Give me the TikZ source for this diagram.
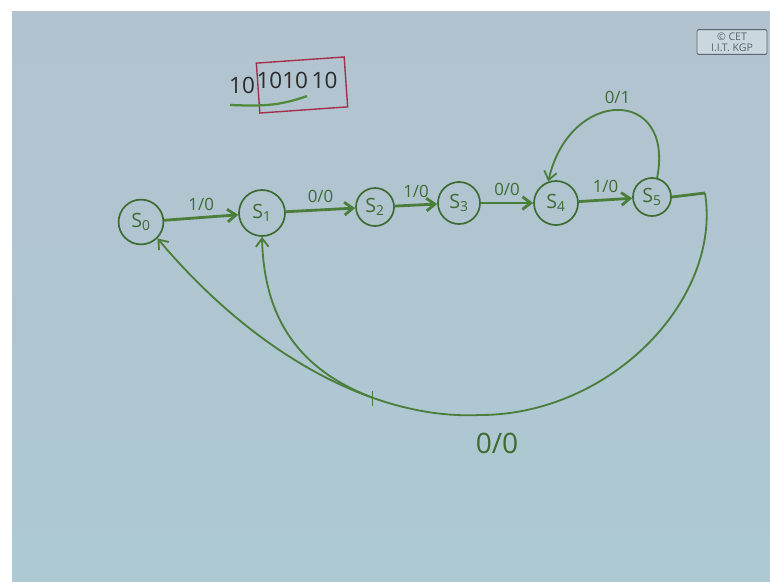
\documentclass[tikz,border=0pt]{standalone}
\usepackage{fontspec}
\setmainfont{Open Sans}
\usepackage{tikz}
\usetikzlibrary{arrows.meta, calc}
\definecolor{boardTop}{HTML}{B2C3CF}
\definecolor{boardMid}{HTML}{CAD7DE}
\definecolor{boardBot}{HTML}{ADC9D3}
\definecolor{pen}{HTML}{4B7D3B}
\definecolor{penB}{HTML}{3D6B31}
\definecolor{ink}{HTML}{2B2B2B}
\definecolor{boxRed}{HTML}{A3304C}
\definecolor{ulGreen}{HTML}{4F8C3A}
\definecolor{stamp}{HTML}{5C6470}

\begin{document}
\begin{tikzpicture}[x=0.025cm, y=-0.025cm, >={Straight Barb[length=6pt,width=9pt]},
st/.style={draw=penB, circle, line width=1.2pt, inner sep=0pt, font=\fontsize{14}{16}\selectfont, text=penB},
tr/.style={->, draw=pen, line width=2pt},
lp/.style={->, draw=pen, line width=1.3pt},
el/.style={font=\fontsize{12}{14}\selectfont, text=penB, inner sep=1pt},
seq/.style={font=\fontsize{16}{19}\selectfont, text=ink, inner sep=1pt}]
\useasboundingbox (0,0) rectangle (770,581);
\fill[white] (0,0) rectangle (770,581);
\shade[top color=boardTop, middle color=boardMid, bottom color=boardBot] (12,11) rectangle (770,581);
% stamp
\node[draw=stamp, fill=boardMid, rounded corners=1pt, line width=0.6pt, align=center, font=\fontsize{7.5}{8}\selectfont, text=stamp, inner sep=1.5pt, minimum width=1.75cm, minimum height=0.62cm] (cet) at (732,42) {\copyright\ CET\\I.I.T. KGP};
% input sequence
\node[seq] (pre) at (242,85) {10};
\node[seq] (seq) at (297,80) {1010\,10};
\node[draw=boxRed, line width=1pt, rotate=4, minimum width=2.2cm, minimum height=1.25cm] (win) at (302,85) {};
\coordinate (ulA) at (230,105); \coordinate (ulB) at (307,96);
\draw[ulGreen, line width=1.6pt] (ulA) to[out=-2, in=200] (ulB);
% states
\node[st, minimum size=1.12cm] (s0) at (141,222) {S\textsubscript{0}};
\node[st, minimum size=1.15cm] (s1) at (262,213) {S\textsubscript{1}};
\node[st, minimum size=0.95cm] (s2) at (375,207) {S\textsubscript{2}};
\node[st, minimum size=1.05cm] (s3) at (459,203) {S\textsubscript{3}};
\node[st, minimum size=1.1cm] (s4) at (556,203) {S\textsubscript{4}};
\node[st, minimum size=0.95cm] (s5) at (652,197) {S\textsubscript{5}};
% transitions
\draw[tr] (s0) -- (s1) node[el, midway, above=3pt] {1/0};
\draw[tr] (s1) -- (s2) node[el, midway, above=3pt] {0/0};
\draw[tr] (s2) -- (s3) node[el, midway, above=3pt] {1/0};
\draw[tr] (s3) -- (s4) node[el, midway, above=3pt] {0/0};
\draw[tr] (s4) -- (s5) node[el, midway, above=3pt] {1/0};
\draw[lp] (s5.75) .. controls (675,87) and (570,87) .. (s4.110) node[el, pos=0.5, above=3pt] {0/1};
% return paths
\coordinate (k1) at (705,193);
\coordinate (k2) at (480,415);
\draw[pen, line width=2pt] (s5.east) -- (k1);
\draw[lp] (k1) .. controls (722,300) and (610,415) .. (k2) .. controls (380,420) and (260,360) .. (s0.south east) coordinate[pos=0.34] (k3);
\draw[lp] (k3) .. controls (300,370) and (264,320) .. (s1.south);
\draw[pen, line width=1pt] ($(k3)+(0,-7)$) -- ($(k3)+(0,8)$);
\node[font=\fontsize{20}{22}\selectfont, text=penB] (ret) at (497,443) {0/0};
\end{tikzpicture}
\end{document}
